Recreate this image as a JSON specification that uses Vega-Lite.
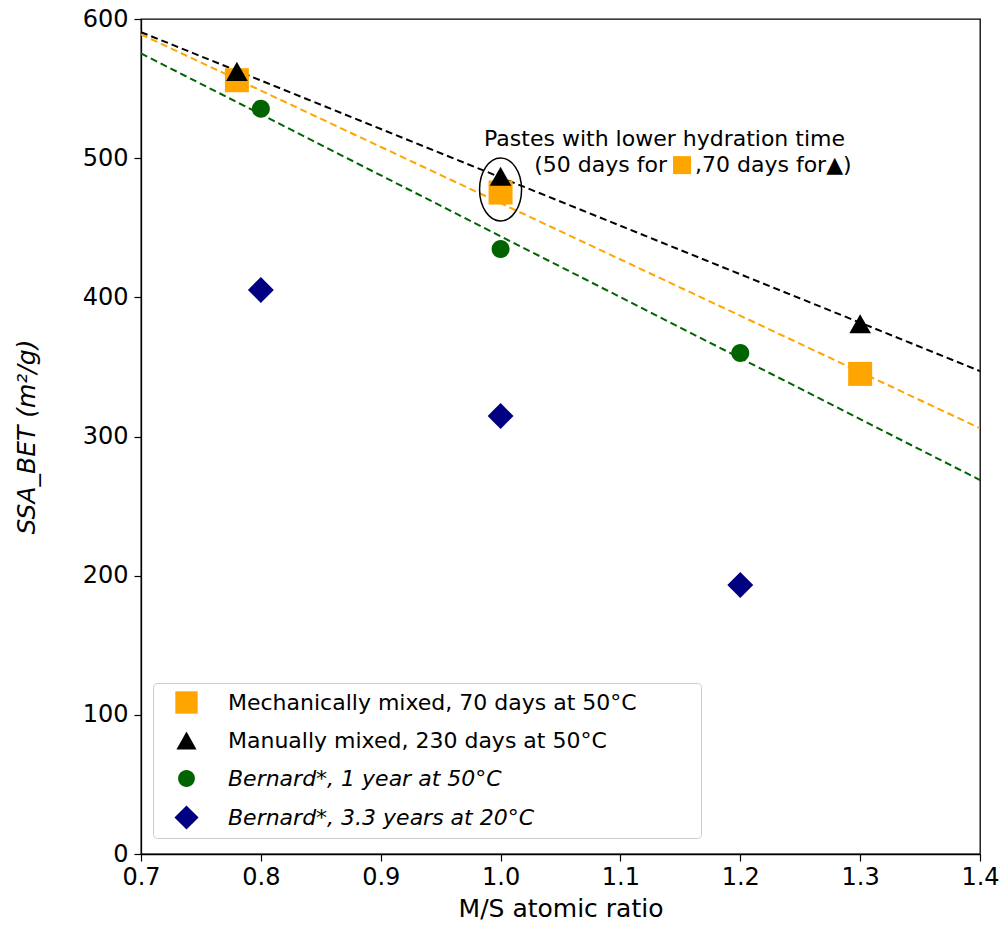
{
  "$schema": "https://vega.github.io/schema/vega-lite/v6.json",
  "width": 839,
  "height": 835,
  "autosize": "none",
  "padding": {"left": 141, "top": 19, "right": 23, "bottom": 71},
  "background": "white",
  "config": {
    "font": "DejaVu Sans",
    "view": {"stroke": "black", "strokeWidth": 1.3},
    "axis": {
      "domainColor": "black", "tickColor": "black", "labelColor": "black", "titleColor": "black",
      "grid": false, "tickSize": 7, "labelFont": "DejaVu Sans", "titleFont": "DejaVu Sans",
      "titleFontWeight": "normal", "domainWidth": 1.3, "tickWidth": 1.2, "labelFontSize": 24, "titleFontSize": 25
    },
    "legend": {"labelFont": "DejaVu Sans"}
  },
  "encoding": {
    "x": {
      "field": "x", "type": "quantitative",
      "scale": {"domain": [0.7, 1.4], "nice": false, "zero": false},
      "axis": {"title": "M/S atomic ratio", "values": [0.7, 0.8, 0.9, 1.0, 1.1, 1.2, 1.3, 1.4], "format": ".1f", "labelPadding": 4, "titlePadding": 7, "labelFlush": false}
    },
    "y": {
      "field": "y", "type": "quantitative",
      "scale": {"domain": [0, 600], "nice": false, "zero": false},
      "axis": {"title": "SSA_BET (m²/g)", "titleFontStyle": "italic", "values": [0, 100, 200, 300, 400, 500, 600], "format": "d", "labelPadding": 6, "titlePadding": 43, "labelFlush": false}
    }
  },
  "layer": [
    {
      "data": {"values": [
        {"fit": "Mechanically mixed", "x": 0.7, "y": 589.0},
        {"fit": "Mechanically mixed", "x": 1.4, "y": 305.9},
        {"fit": "Manually mixed", "x": 0.7, "y": 590.6},
        {"fit": "Manually mixed", "x": 1.4, "y": 347.0},
        {"fit": "Bernard 1 year", "x": 0.7, "y": 575.3},
        {"fit": "Bernard 1 year", "x": 1.4, "y": 268.7}
      ]},
      "mark": {"type": "line", "strokeDash": [7, 4], "strokeWidth": 2, "clip": true},
      "encoding": {
        "color": {"field": "fit", "type": "nominal",
          "scale": {"domain": ["Mechanically mixed", "Manually mixed", "Bernard 1 year"], "range": ["#FFA500", "#000000", "#006400"]},
          "legend": null}
      }
    },
    {
      "data": {"values": [
        {"series": "Mechanically mixed, 70 days at 50°C", "x": 0.78, "y": 556.0},
        {"series": "Mechanically mixed, 70 days at 50°C", "x": 1.0, "y": 475.3},
        {"series": "Mechanically mixed, 70 days at 50°C", "x": 1.3, "y": 345.0},
        {"series": "Manually mixed, 230 days at 50°C", "x": 0.78, "y": 562.4},
        {"series": "Manually mixed, 230 days at 50°C", "x": 1.0, "y": 487.0},
        {"series": "Manually mixed, 230 days at 50°C", "x": 1.3, "y": 381.0},
        {"series": "Bernard*,  1 year at 50°C", "x": 0.8, "y": 535.5},
        {"series": "Bernard*,  1 year at 50°C", "x": 1.0, "y": 434.7},
        {"series": "Bernard*,  1 year at 50°C", "x": 1.2, "y": 360.0},
        {"series": "Bernard*,  3.3 years at 20°C", "x": 0.8, "y": 405.3},
        {"series": "Bernard*,  3.3 years at 20°C", "x": 1.0, "y": 314.7},
        {"series": "Bernard*,  3.3 years at 20°C", "x": 1.2, "y": 193.3}
      ]},
      "mark": {"type": "point", "filled": true, "opacity": 1, "size": 576},
      "encoding": {
        "color": {"field": "series", "type": "nominal",
          "scale": {"domain": ["Mechanically mixed, 70 days at 50°C", "Manually mixed, 230 days at 50°C", "Bernard*,  1 year at 50°C", "Bernard*,  3.3 years at 20°C"],
                    "range": ["#FFA500", "#000000", "#006400", "#000080"]},
          "legend": {
            "title": null, "orient": "none", "legendX": 12, "legendY": 664,
            "labelFontSize": 22, "labelColor": "black", "labelLimit": 0,
            "fillColor": "white", "strokeColor": "#cccccc", "cornerRadius": 4,
            "padding": 8, "rowPadding": 15, "symbolOffset": 14, "labelOffset": 30,
            "symbolSize": 500, "symbolStrokeWidth": 0, "symbolOpacity": 1,
            "encode": {"labels": {"update": {
              "text": {"signal": "datum.label + '        \u200b'"},
              "fontStyle": {"signal": "indexof(datum.label, 'Bernard') >= 0 ? 'italic' : 'normal'"}}}}
          }
        },
        "shape": {"field": "series", "type": "nominal",
          "scale": {"domain": ["Mechanically mixed, 70 days at 50°C", "Manually mixed, 230 days at 50°C", "Bernard*,  1 year at 50°C", "Bernard*,  3.3 years at 20°C"],
                    "range": [
                      "M-1,-1L1,-1L1,1L-1,1Z",
                      "M0,-0.8L0.9,0.8L-0.9,0.8Z",
                      "M-0.75,0A0.75,0.75,0,1,1,0.75,0A0.75,0.75,0,1,1,-0.75,0Z",
                      "M0,-1.08L1.08,0L0,1.08L-1.08,0Z"
                    ]}}
      }
    },
    {
      "data": {"values": [{"x": 1.0, "y": 477.5}]},
      "mark": {"type": "point", "shape": "M0,-1A0.667,1,0,1,1,0,1A0.667,1,0,1,1,0,-1Z", "size": 3969, "filled": false, "stroke": "black", "strokeWidth": 1.5, "opacity": 1}
    },
    {
      "data": {"values": [{"x": 1.1368, "y": 513.8, "label": "Pastes with lower hydration time"}]},
      "mark": {"type": "text", "align": "center", "baseline": "middle", "fontSize": 22, "color": "black"},
      "encoding": {"text": {"field": "label"}}
    },
    {
      "data": {"values": [{"x": 1.1388, "y": 495.0, "label": "(50 days for"}]},
      "mark": {"type": "text", "align": "right", "baseline": "middle", "fontSize": 22, "color": "black"},
      "encoding": {"text": {"field": "label"}}
    },
    {
      "data": {"values": [{"x": 1.1622, "y": 495.0, "label": ",70 days for▲)"}]},
      "mark": {"type": "text", "align": "left", "baseline": "middle", "fontSize": 22, "color": "black"},
      "encoding": {"text": {"field": "label"}}
    },
    {
      "data": {"values": [{"x": 1.1514, "y": 495.0}]},
      "mark": {"type": "point", "shape": "square", "filled": true, "color": "#FFA500", "opacity": 1, "size": 324}
    }
  ],
  "resolve": {"scale": {"color": "independent", "shape": "independent"}}
}
